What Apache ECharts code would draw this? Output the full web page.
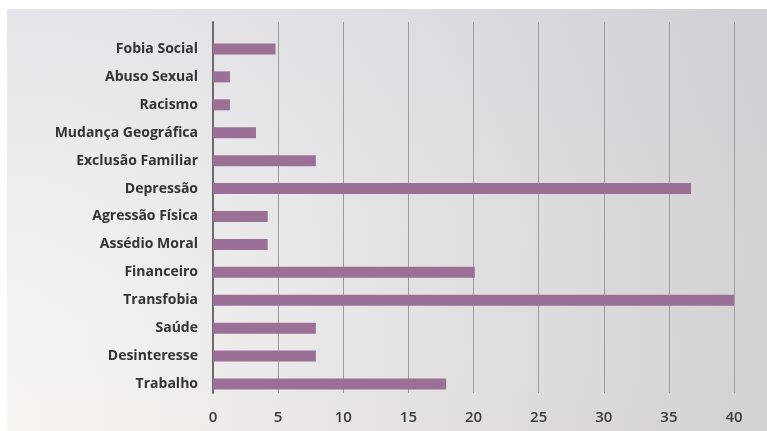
<!DOCTYPE html>
<html>
<head>
<meta charset="utf-8">
<script src="https://cdn.jsdelivr.net/npm/echarts@6/dist/echarts.min.js"></script>
<style>
html,body{margin:0;padding:0;background:#fff;}
#chart{width:767px;height:431px;}
</style>
</head>
<body>
<div id="chart"></div>
<script>
const categories = ["Fobia Social","Abuso Sexual","Racismo","Mudança Geográfica","Exclusão Familiar","Depressão","Agressão Física","Assédio Moral","Financeiro","Transfobia","Saúde","Desinteresse","Trabalho"];
const values = [4.8, 1.3, 1.3, 3.3, 7.9, 36.7, 4.2, 4.2, 20.1, 40, 7.9, 7.9, 17.9];
const tickLabels = [0,5,10,15,20,25,30,35,40];

const chart = echarts.init(document.getElementById('chart'), null, {renderer:'canvas'});
const fontFam = '"Open Sans", Lato, sans-serif';
const option = {
  backgroundColor: '#ffffff',
  animation: false,
  graphic: [
    {type:'rect', z:-10, silent:true, shape:{x:7,y:9,width:760,height:422},
     style:{fill:{type:'radial', x:0.0, y:1.0, r:2.0, colorStops:[
       {offset:0, color:'#ffffff'},
       {offset:0.15, color:'#fbfbfb'},
       {offset:0.5, color:'#e8e8ea'},
       {offset:1, color:'#d0d0d3'}]}}},
    {type:'rect', z:-9, silent:true, shape:{x:7,y:9,width:760,height:422},
     style:{fill:{type:'linear', x:0, y:0, x2:0, y2:1, colorStops:[
       {offset:0, color:'rgba(205,210,225,0.12)'},
       {offset:1, color:'rgba(205,190,175,0.18)'}]}}}
  ],
  grid: [
    {left:213, right:33, top:22, bottom:38},
    {left:213, right:33, top:35, bottom:33}
  ],
  xAxis: [
    {gridIndex:0, type:'value', min:0, max:40, interval:5,
     axisLine:{show:false}, axisTick:{show:false},
     splitLine:{show:true, lineStyle:{color:'#9c9c9e', width:1}},
     axisLabel:{margin:17, color:'#3a3a3a', fontSize:15, fontWeight:600, fontFamily:fontFam,
       formatter: v => tickLabels.includes(v) ? String(v) : ''}},
    {gridIndex:1, type:'value', min:0, max:40, show:false}
  ],
  yAxis: [
    {gridIndex:0, type:'value', min:0, max:1,
     axisLine:{show:true, lineStyle:{color:'#6e6a6c', width:2}},
     axisTick:{show:false}, axisLabel:{show:false}, splitLine:{show:false}},
    {gridIndex:1, type:'category', data:categories, inverse:true,
     axisLine:{show:false}, axisTick:{show:false},
     axisLabel:{margin:15, color:'#333333', fontSize:14, fontWeight:'bold', fontFamily:fontFam,
       padding:[3,0,0,0]}}
  ],
  series: [
    {type:'bar', xAxisIndex:1, yAxisIndex:1, data:values, barWidth:11,
     itemStyle:{color:'#9b7096'}}
  ]
};
chart.setOption(option);
</script>
</body>
</html>
